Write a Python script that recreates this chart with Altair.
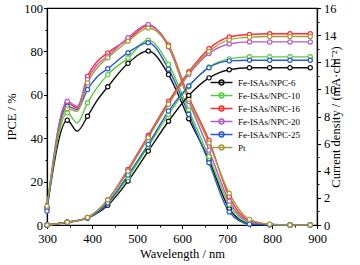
import altair as alt
import pandas as pd

series = ["Fe-ISAs/NPC-6", "Fe-ISAs/NPC-10", "Fe-ISAs/NPC-16",
          "Fe-ISAs/NPC-20", "Fe-ISAs/NPC-25", "Pt"]
colors = ["#111111", "#5dc842", "#ff2a2a", "#b45cc8", "#2a5cc8", "#a59d3c"]

# IPCE (%) vs wavelength (nm)
wl_ipce = [300, 345, 367, 390, 410, 435, 480, 525, 570, 615, 660, 705, 750, 795, 840, 885]
ipce_6  = [8.0, 48.3, 43.2, 50.1, 57.0, 63.7, 74.5, 80.2, 69.3, 49.0, 30.0, 7.5, 0.6, 0.1, 0, 0]
ipce_10 = [8.0, 51.7, 47.1, 56.3, 63.0, 69.3, 77.0, 85.2, 74.0, 53.0, 31.5, 9.5, 1.0, 0.2, 0, 0]
ipce_16 = [8.0, 56.3, 54.0, 68.5, 75.0, 79.3, 85.5, 91.9, 83.0, 59.0, 39.0, 13.0, 2.0, 0.3, 0, 0]
ipce_20 = [8.0, 57.0, 54.7, 67.0, 73.5, 77.9, 86.3, 92.4, 82.0, 57.0, 34.5, 11.0, 1.5, 0.2, 0, 0]
ipce_25 = [6.4, 54.7, 53.2, 62.4, 68.0, 72.0, 79.4, 84.0, 71.8, 51.0, 28.7, 6.0, 0.4, 0.1, 0, 0]
ipce_pt = [8.7, 53.5, 52.4, 65.5, 72.0, 77.1, 84.7, 90.8, 82.3, 58.0, 37.8, 14.6, 2.6, 0.4, 0, 0]

# Integrated current density (mA cm-2) vs wavelength (nm)
wl_cur = [300, 345, 390, 435, 480, 525, 570, 615, 660, 705, 750, 795, 840, 885]
cur_6  = [0, 0.2, 0.50, 1.45, 3.24, 5.45, 7.65, 9.55, 10.85, 11.45, 11.60, 11.60, 11.60, 11.60]
cur_10 = [0, 0.2, 0.52, 1.60, 3.50, 5.80, 8.15, 10.20, 11.65, 12.25, 12.40, 12.40, 12.40, 12.40]
cur_16 = [0, 0.2, 0.56, 1.85, 4.10, 6.60, 9.10, 11.30, 13.00, 13.86, 14.05, 14.10, 14.10, 14.10]
cur_20 = [0, 0.2, 0.55, 1.82, 4.00, 6.50, 8.95, 11.10, 12.65, 13.35, 13.50, 13.50, 13.50, 13.50]
cur_25 = [0, 0.2, 0.52, 1.62, 3.68, 5.94, 8.40, 10.25, 11.60, 12.10, 12.15, 12.15, 12.15, 12.15]
cur_pt = [0, 0.2, 0.55, 1.84, 3.97, 6.43, 8.90, 11.20, 12.80, 13.65, 13.85, 13.90, 13.90, 13.90]

ipce_all = [ipce_6, ipce_10, ipce_16, ipce_20, ipce_25, ipce_pt]
cur_all = [cur_6, cur_10, cur_16, cur_20, cur_25, cur_pt]

rows = []
for s, vals in zip(series, ipce_all):
    for w, v in zip(wl_ipce, vals):
        rows.append({"series": s, "wl": w, "v": v})
df_ipce = pd.DataFrame(rows)
rows = []
for s, vals in zip(series, cur_all):
    for w, v in zip(wl_cur, vals):
        rows.append({"series": s, "wl": w, "v": v})
df_cur = pd.DataFrame(rows)

FONT = "Liberation Serif"
legend_path = "M-5.5,0H5.5M1.2,0A1.2,1.2,0,1,1,-1.2,0A1.2,1.2,0,1,1,1.2,0"

legend = alt.Legend(title=None, orient="none", legendX=170, legendY=70,
                    symbolType=legend_path, symbolSize=16, symbolStrokeWidth=1.5,
                    symbolFillColor="white",
                    labelFontSize=9, labelFont=FONT, labelOffset=12,
                    rowPadding=2, padding=0, labelColor="black")
color_enc = alt.Color("series:N", scale=alt.Scale(domain=series, range=colors),
                      sort=series, legend=legend)

x_enc = alt.X("wl:Q", scale=alt.Scale(domain=[300, 900], nice=False, padding=0),
              axis=alt.Axis(title="Wavelength / nm", values=list(range(300, 901, 50)),
                            labelExpr="datum.value % 100 == 0 ? datum.label : ''",
                            tickSize={"condition": {"test": "datum.value % 100 != 0", "value": 2},
                                      "value": 3.5},
                            labelFlush=False, labelPadding=3.5, titlePadding=3))

y_left = alt.Y("v:Q", scale=alt.Scale(domain=[0, 100], nice=False, padding=0),
               axis=alt.Axis(title="IPCE / %", orient="left", values=list(range(0, 101, 10)),
                             labelExpr="datum.value % 20 == 0 ? datum.label : ''",
                             tickSize={"condition": {"test": "datum.value % 20 != 0", "value": 2},
                                       "value": 3.5},
                             labelFlush=False, labelPadding=1, titlePadding=5))
y_right = alt.Y("v:Q", scale=alt.Scale(domain=[0, 16], nice=False, padding=0),
                axis=alt.Axis(title="Current density / (mA·cm⁻²)", orient="right",
                              values=list(range(0, 17, 1)), titleAngle=270,
                              labelExpr="datum.value % 2 == 0 ? datum.label : ''",
                              tickSize={"condition": {"test": "datum.value % 2 != 0", "value": 2},
                                        "value": 3.5},
                              labelFlush=False, labelPadding=3, titlePadding=6))

marker_filter = "(datum.wl - 300) % 45 == 0"

ipce_base = alt.Chart(df_ipce)
ipce_line = ipce_base.mark_line(interpolate="monotone", strokeWidth=1.4).encode(
    x=x_enc, y=y_left, color=color_enc)
ipce_pts = ipce_base.transform_filter(marker_filter).mark_point(
    filled=False, fill="white", size=18, strokeWidth=1.2, opacity=1).encode(
    x=x_enc, y=y_left, color=color_enc)

cur_base = alt.Chart(df_cur)
cur_line = cur_base.mark_line(interpolate="monotone", strokeWidth=1.4).encode(
    x=x_enc, y=y_right, color=color_enc)
cur_pts = cur_base.mark_point(
    filled=False, fill="white", size=18, strokeWidth=1.2, opacity=1).encode(
    x=x_enc, y=y_right, color=color_enc)

left = alt.layer(ipce_line, ipce_pts)
right = alt.layer(cur_line, cur_pts)

chart = alt.layer(left, right).resolve_scale(y="independent").properties(
    width=270, height=217,
    autosize=alt.AutoSizeParams(type="none"),
    padding={"left": 47, "top": 8, "right": 43, "bottom": 40},
    background="white",
).configure_view(stroke="black", strokeWidth=1.2).configure_axis(
    grid=False, domainColor="black", domainWidth=1.2, tickColor="black", tickWidth=1,
    labelColor="black", titleColor="black", labelFont=FONT, titleFont=FONT,
    labelFontSize=12.5, titleFontSize=12.5, titleFontWeight="normal",
)

chart.save("out.html", embed_options={"renderer": "svg", "actions": False})
